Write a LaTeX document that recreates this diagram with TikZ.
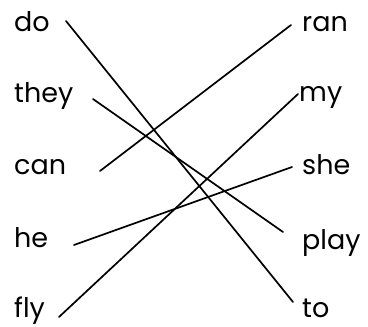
\documentclass[tikz,border=0pt]{standalone}
\usepackage{fontspec}
\setmainfont{Poppins}
\usetikzlibrary{positioning}
\tikzset{
  word/.style={inner sep=0pt,anchor=base west,font=\fontsize{27}{32}\selectfont},
  link/.style={line width=1.7pt,line cap=round}
}

\begin{document}
\begin{tikzpicture}[x=1pt,y=1pt]
  \useasboundingbox (0,0) rectangle (368,327);

  % left column
  \node[word] (do)   at (14,295) {do};
  \node[word] (they) at (14,224) {they};
  \node[word] (can)  at (14,152) {can};
  \node[word] (he)   at (14,79)  {he};
  \node[word] (fly)  at (14,9)   {fly};

  % right column
  \node[word] (ran)  at (302,295) {ran};
  \node[word] (my)   at (299,225) {my};
  \node[word] (she)  at (302,152) {she};
  \node[word] (play) at (302,77)  {play};
  \node[word] (to)   at (302,9)   {to};

  \draw[link] ([shift={(52,11)}]do.base west)   -- ([shift={(-9,16)}]to.base west);
  \draw[link] ([shift={(79,4)}]they.base west)  -- ([shift={(-19,18)}]play.base west);
  \draw[link] ([shift={(86,4)}]can.base west)   -- ([shift={(-11,7)}]ran.base west);
  \draw[link] ([shift={(60,3)}]he.base west)    -- ([shift={(-10,8)}]she.base west);
  \draw[link] ([shift={(45,1)}]fly.base west)   -- ([shift={(-1,8)}]my.base west);
\end{tikzpicture}
\end{document}
